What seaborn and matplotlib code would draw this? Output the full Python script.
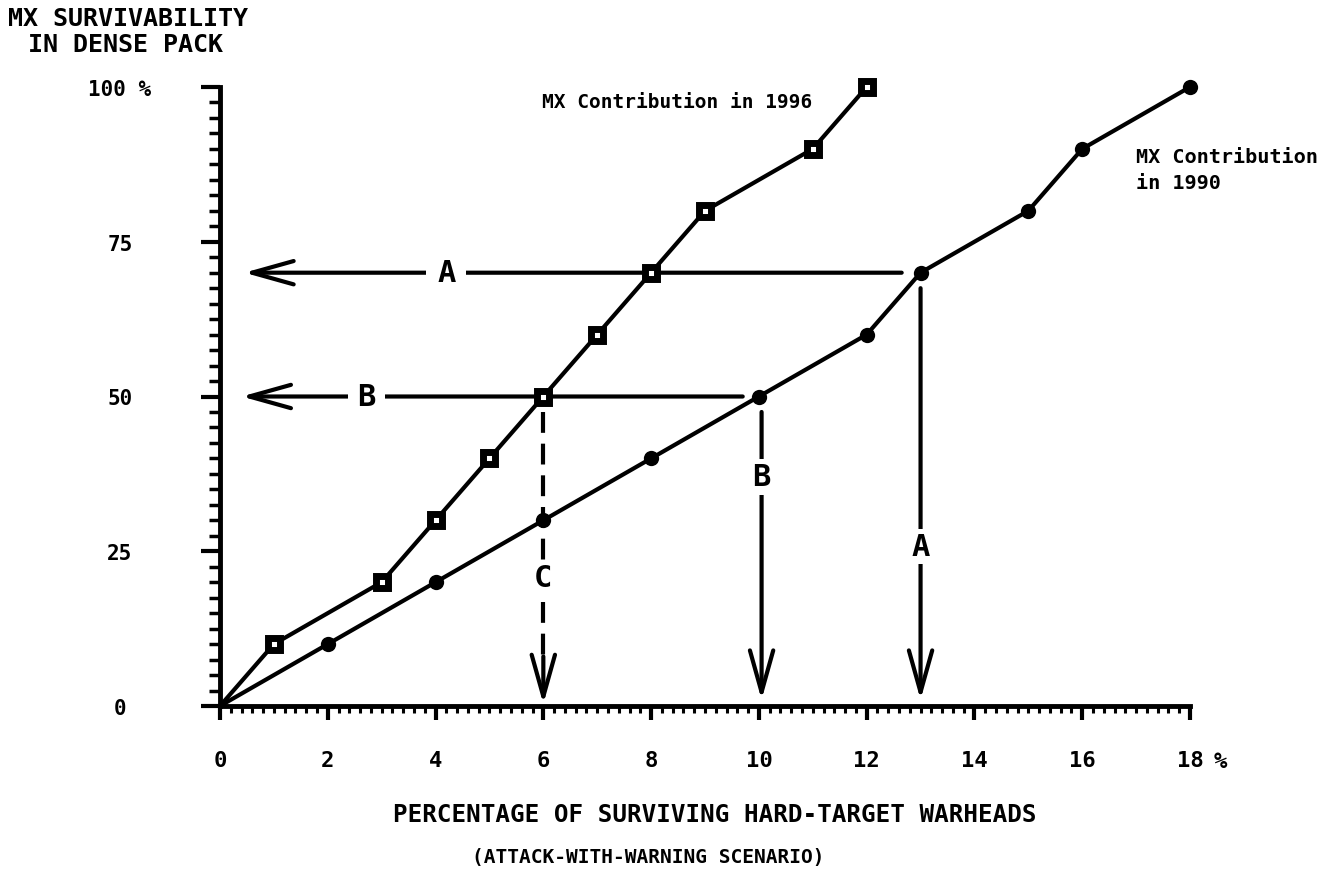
import matplotlib
matplotlib.use("Agg")
import matplotlib.pyplot as plt
import seaborn as sns
import numpy as np

# Dados
pct_1996 = [0, 1, 3, 4, 5, 6, 7, 8, 9, 11, 12]
surv_1996 = [0, 10, 20, 30, 40, 50, 60, 70, 80, 90, 100]
pct_1990 = [0, 2, 4, 6, 8, 10, 12, 13, 15, 16, 18]
surv_1990 = [0, 10, 20, 30, 40, 50, 60, 70, 80, 90, 100]

x_ticks = [0, 2, 4, 6, 8, 10, 12, 14, 16, 18]
x_tick_labels = ['0', '2', '4', '6', '8', '10', '12', '14', '16', '18']
y_ticks = [0, 25, 50, 75, 100]
y_tick_labels = ['0', '25', '50', '75', '100 %']

nivel_a = 70   # linha A
nivel_b = 50   # linha B / C

sns.set_style("ticks")
plt.rcParams['font.family'] = ['DejaVu Sans Mono', 'DejaVu Sans']
plt.rcParams['font.weight'] = 'bold'
for k in ['text.color', 'axes.labelcolor', 'xtick.color', 'ytick.color', 'axes.edgecolor']:
    plt.rcParams[k] = 'black'

W, H = 1331, 878


def px(x, y):
    # posicao em pixels -> fracao da figura
    return x / W, 1 - y / H


fig = plt.figure(figsize=(W / 100, H / 100), dpi=100)
ax = fig.add_axes([220 / W, 1 - 707 / H, 970 / W, 619 / H])

# Series (sem marcador na origem)
sns.lineplot(x=pct_1996, y=surv_1996, ax=ax, color='black', lw=3,
             marker='s', markersize=8, markerfacecolor='white',
             markeredgecolor='black', markeredgewidth=5,
             markevery=list(range(1, len(pct_1996))), clip_on=False, zorder=4)
sns.lineplot(x=pct_1990, y=surv_1990, ax=ax, color='black', lw=3,
             marker='o', markersize=11, markeredgewidth=0,
             markevery=list(range(1, len(pct_1990))), clip_on=False, zorder=4)

ax.set_xlim(0, 18)
ax.set_ylim(0, 100)
sns.despine(ax=ax)
for s in ['left', 'bottom']:
    ax.spines[s].set_linewidth(3.5)

ax.set_xticks(x_ticks)
ax.set_xticklabels(x_tick_labels, fontsize=16, fontweight='bold')
ax.set_yticks(y_ticks)
ax.set_yticklabels(y_tick_labels, fontsize=15, fontweight='bold')
ax.set_xticks(np.arange(0, 18.01, 0.2), minor=True)
ax.set_yticks(np.arange(0, 100.01, 2.5), minor=True)
ax.tick_params(axis='x', which='major', length=10, width=3, pad=22)
ax.tick_params(axis='x', which='minor', length=5, width=2.2)
ax.tick_params(axis='y', which='major', length=14, width=3, pad=58)
ax.tick_params(axis='y', which='minor', length=8, width=2.5)
for lab in ax.get_yticklabels():
    lab.set_horizontalalignment('center')

# posicoes derivadas dos dados
xa_1990 = pct_1990[surv_1990.index(nivel_a)]
xb_1990 = pct_1990[surv_1990.index(nivel_b)]
xc_1996 = pct_1996[surv_1996.index(nivel_b)]

seta = '->,head_length=1.5,head_width=0.42'


def flecha(x0, y0, x1, y1):
    ax.annotate('', xy=(x1, y1), xytext=(x0, y0),
                arrowprops=dict(arrowstyle=seta, lw=3, color='black',
                                shrinkA=0, shrinkB=0, mutation_scale=20),
                zorder=2, annotation_clip=False)


def rotulo(x, y, s, pad):
    ax.text(x, y, s, fontsize=22, fontweight='bold', ha='center', va='center',
            zorder=3, bbox=dict(boxstyle=f'square,pad={pad}', fc='white', ec='none'))


# setas horizontais
flecha(xa_1990 - 0.35, nivel_a, 0.45, nivel_a)
rotulo(4.2, nivel_a, 'A', 0.35)
flecha(xb_1990 - 0.3, nivel_b, 0.4, nivel_b)
rotulo(2.72, nivel_b, 'B', 0.3)

# setas verticais
ax.plot([xc_1996, xc_1996], [nivel_b - 2.5, 8], color='black', lw=3,
        ls=(0, (5, 2.6)), zorder=2)
flecha(xc_1996, 8, xc_1996, 0.3)
rotulo(xc_1996, 20.8, 'C', 0.1)
flecha(xb_1990 + 0.05, nivel_b - 2.5, xb_1990 + 0.05, 1)
rotulo(xb_1990 + 0.05, 37, 'B', 0.1)
flecha(xa_1990, nivel_a - 2.5, xa_1990, 1)
rotulo(xa_1990, 25.7, 'A', 0.1)

# textos das series
ax.text(5.98, 97.6, 'MX Contribution in 1996', fontsize=14, fontweight='bold',
        ha='left', va='center')
ax.text(17.0, 88.7, 'MX Contribution', fontsize=14.5, fontweight='bold',
        ha='left', va='center')
ax.text(17.0, 84.6, 'in 1990', fontsize=14.5, fontweight='bold',
        ha='left', va='center')

# titulos dos eixos
fig.text(*px(8, 19), 'MX SURVIVABILITY', fontsize=18, fontweight='bold',
         ha='left', va='center')
fig.text(*px(28, 45), 'IN DENSE PACK', fontsize=18, fontweight='bold',
         ha='left', va='center')
fig.text(*px(1220, 762), '%', fontsize=16, fontweight='bold', ha='center', va='center')
fig.text(*px(715, 815), 'PERCENTAGE OF SURVIVING HARD-TARGET WARHEADS',
         fontsize=17.5, fontweight='bold', ha='center', va='center')
fig.text(*px(648, 858), '(ATTACK-WITH-WARNING SCENARIO)',
         fontsize=14, fontweight='bold', ha='center', va='center')

fig.savefig('out.png', dpi=100)
